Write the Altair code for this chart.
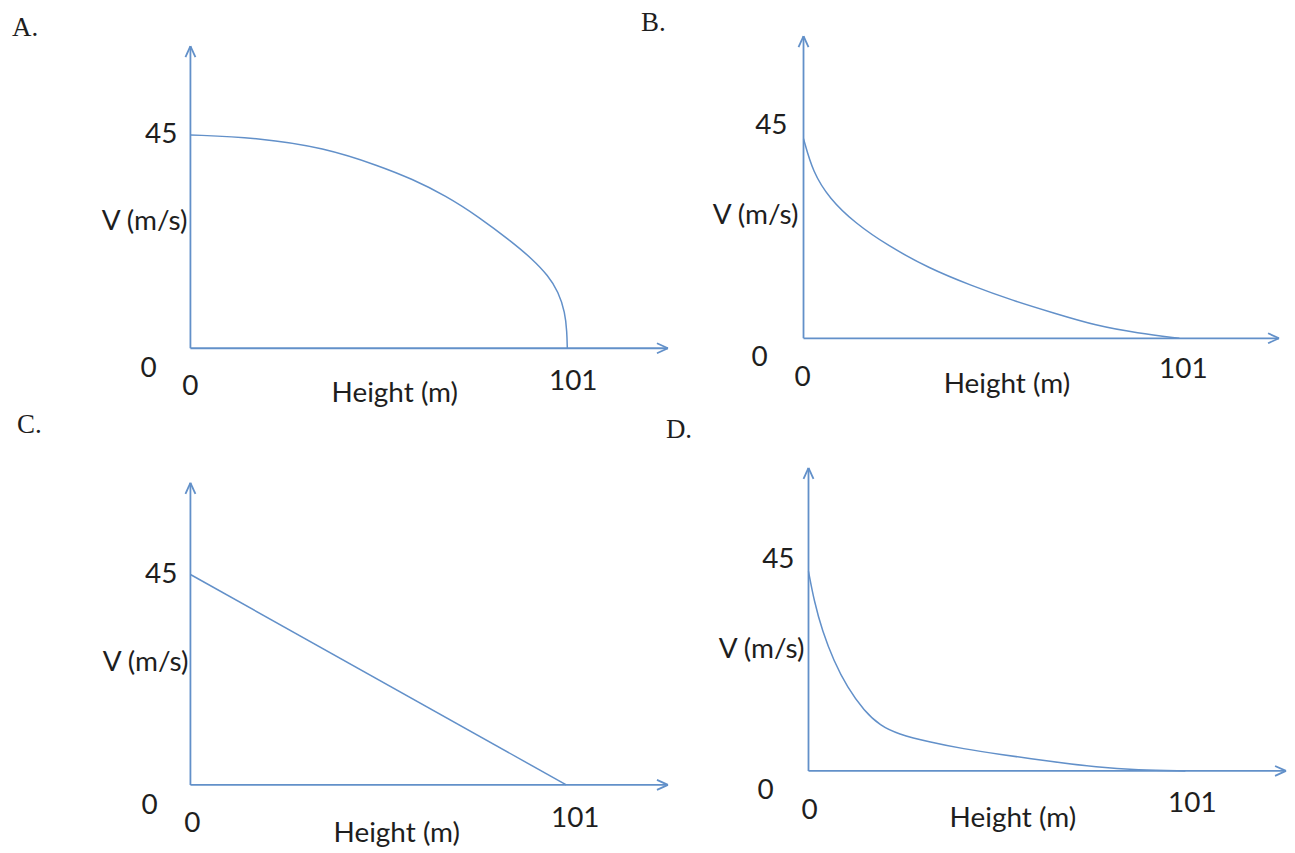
import altair as alt
import pandas as pd

# ---------------- data ----------------
PANEL_LETTERS = ["A.", "B.", "C.", "D."]
Y_TICK_LABEL = "45"
ZERO_LABEL = "0"
X_END_LABEL = "101"
Y_TITLE = "V (m/s)"
X_TITLE = "Height (m)"

A_H = [0, 18.4, 35.8, 50.5, 59.4, 68.4, 77.3, 86.2, 91.5, 95.9, 98.6, 100.4, 100.9, 101]
A_V = [45, 44.4, 42.3, 38.5, 35.7, 32.2, 27.7, 22.4, 18.9, 15.3, 11.9, 7.6, 3.4, 0]

B_H = [0, 2.5, 7.0, 13.7, 22.7, 33.8, 45.0, 56.2, 67.5, 78.5, 89.8, 101]
B_V = [42.3, 35.2, 29.6, 24.5, 19.6, 14.8, 11.2, 8.0, 5.3, 2.7, 1.1, 0]

C_H = [0, 101]
C_V = [45, 0]

D_H = [0, 1.5, 3.7, 6.8, 10.4, 14.9, 19.3, 23.8, 32.7, 41.6, 50.5, 66.0, 77.1, 88.2, 101]
D_V = [42.5, 36.2, 29.8, 23.4, 17.8, 12.8, 9.6, 7.9, 6.1, 4.7, 3.6, 1.9, 0.8, 0.2, 0]

CURVES = {"A.": (A_H, A_V), "B.": (B_H, B_V), "C.": (C_H, C_V), "D.": (D_H, D_V)}

# ---------------- layout (page pixels) ----------------
LINE_COLOR = "#6290C9"
TEXT_COLOR = "#1e1e1e"
LABEL_FONT = "Lato"
LETTER_FONT = "Liberation Serif"
LABEL_SIZE = 28
LETTER_SIZE = 27
ARROW_LEN = 11
ARROW_HALF = 5

COL_X = [8, 658]
COL_W = [650, 629]
ROW_Y = [8, 408]
ROW_H = [400, 437]

LAYOUT = {
    "A.": dict(col=0, row=0, ox=191, oy=343, sx=3.743, sy=4.756, top=40, right=670,
               tick45=(178, 129.5), ytitle=(188, 216), zero_y=(149, 364), zero_x=(191, 382),
               x_end=(575, 377), xtitle=(396, 389), letter=(12, 30)),
    "B.": dict(col=1, row=0, ox=806, oy=333, sx=3.733, sy=4.733, top=30, right=1283,
               tick45=(790, 120), ytitle=(801, 210), zero_y=(762, 353), zero_x=(805, 373),
               x_end=(1187, 365), xtitle=(1010, 380), letter=(643, 25)),
    "C.": dict(col=0, row=1, ox=191, oy=781, sx=3.733, sy=4.69, top=478, right=670,
               tick45=(178, 570), ytitle=(189, 659), zero_y=(150, 802), zero_x=(193, 820),
               x_end=(577, 815), xtitle=(398, 830), letter=(17, 428)),
    "D.": dict(col=1, row=1, ox=811, oy=767, sx=3.743, sy=4.71, top=463, right=1290,
               tick45=(797, 555), ytitle=(807, 646), zero_y=(768, 787), zero_x=(812, 807),
               x_end=(1196, 800), xtitle=(1016, 815), letter=(668, 433)),
}


def panel(letter):
    L = LAYOUT[letter]
    ox, oy, sx, sy = L["ox"], L["oy"], L["sx"], L["sy"]
    px0, w = COL_X[L["col"]], COL_W[L["col"]]
    py0, h = ROW_Y[L["row"]], ROW_H[L["row"]]

    def dx(px):
        return (px - ox) / sx

    def dy(py):
        return (oy - py) / sy

    xs = alt.Scale(domain=[dx(px0), dx(px0 + w)], nice=False, zero=False)
    ys = alt.Scale(domain=[dy(py0 + h), dy(py0)], nice=False, zero=False)
    X = lambda f="x": alt.X(f"{f}:Q", scale=xs, axis=None)
    Y = lambda f="y": alt.Y(f"{f}:Q", scale=ys, axis=None)

    # axes with open arrowheads
    top_v = dy(L["top"])
    right_h = dx(L["right"])
    segs = pd.DataFrame([
        dict(x=0, y=0, x2=0, y2=top_v),
        dict(x=0, y=0, x2=right_h, y2=0),
        dict(x=0, y=top_v, x2=-ARROW_HALF / sx, y2=top_v - ARROW_LEN / sy),
        dict(x=0, y=top_v, x2=ARROW_HALF / sx, y2=top_v - ARROW_LEN / sy),
        dict(x=right_h, y=0, x2=right_h - ARROW_LEN / sx, y2=ARROW_HALF / sy),
        dict(x=right_h, y=0, x2=right_h - ARROW_LEN / sx, y2=-ARROW_HALF / sy),
    ])
    axes = alt.Chart(segs).mark_rule(color=LINE_COLOR, strokeWidth=1.8).encode(
        x=X(), y=Y(), x2="x2:Q", y2="y2:Q")

    hv, vv = CURVES[letter]
    curve_df = pd.DataFrame({"x": hv, "y": vv})
    curve = alt.Chart(curve_df).mark_line(
        color=LINE_COLOR, strokeWidth=1.5,
        interpolate="linear" if len(hv) == 2 else "basis").encode(x=X(), y=Y())

    def txt(text, pos, align, baseline="middle", font=LABEL_FONT, size=LABEL_SIZE):
        df = pd.DataFrame({"x": [dx(pos[0])], "y": [dy(pos[1])], "t": [text]})
        return alt.Chart(df).mark_text(
            align=align, baseline=baseline, font=font, fontSize=size, color=TEXT_COLOR
        ).encode(x=X(), y=Y(), text="t:N")

    labels = [
        txt(Y_TICK_LABEL, L["tick45"], "right"),
        txt(Y_TITLE, L["ytitle"], "right"),
        txt(ZERO_LABEL, L["zero_y"], "center"),
        txt(ZERO_LABEL, L["zero_x"], "center"),
        txt(X_END_LABEL, L["x_end"], "center"),
        txt(X_TITLE, L["xtitle"], "center"),
        txt(letter, L["letter"], "left", baseline="alphabetic", font=LETTER_FONT, size=LETTER_SIZE),
    ]
    return alt.layer(axes, curve, *labels).properties(width=w, height=h)


chart = alt.concat(
    *[panel(p) for p in PANEL_LETTERS], columns=2, spacing=0, bounds="flush"
).properties(padding=0, background="white").configure_view(stroke=None)

chart.save("out.html", embed_options={"renderer": "svg", "actions": False})
